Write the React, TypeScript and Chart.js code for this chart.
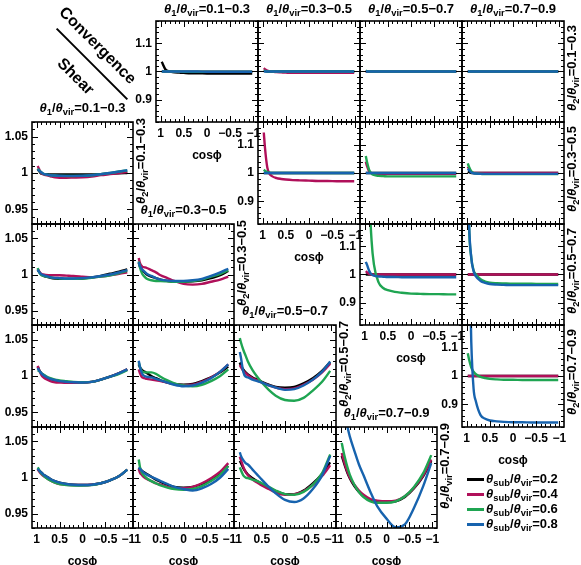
import React, { useEffect, useRef } from "react";
import { Chart, registerables } from "chart.js";
Chart.register(...registerables);

// ---------- data ----------
const COS_PHI = [0.975, 0.95, 0.9, 0.85, 0.8, 0.7, 0.6, 0.5, 0.35, 0.2, 0, -0.2, -0.4, -0.6, -0.8, -0.975];
const SUB_RATIOS = ["0.2", "0.4", "0.6", "0.8"];
const BIN_LABELS = ["0.1−0.3", "0.3−0.5", "0.5−0.7", "0.7−0.9"];
const X_TICKS = [1, 0.5, 0, -0.5, -1];
const CONV_Y_TICKS = [0.9, 1, 1.1];
const SHEAR_Y_TICKS = [0.95, 1, 1.05];

// Convergence: CONV_<theta1 bin>_<theta2 bin>, series order: 0.2, 0.4, 0.6, 0.8
const CONV_1_1 = [
  [1.035, 1.025, 1.008, 1.002, 1.0, 0.997, 0.996, 0.995, 0.994, 0.994, 0.993, 0.993, 0.993, 0.993, 0.993, 0.993],
  [1.002, 1.001, 1.0, 1.0, 1.0, 1.0, 0.999, 0.999, 0.999, 0.999, 0.999, 0.999, 0.999, 0.999, 0.999, 0.999],
  [1.001, 1.0, 1.0, 1.0, 1.0, 1.0, 1.0, 0.999, 0.999, 0.999, 0.999, 0.999, 0.999, 0.999, 0.999, 0.999],
  [1.0, 1.0, 1.0, 1.0, 1.0, 1.0, 1.0, 1.0, 1.0, 1.0, 0.999, 0.999, 0.999, 0.999, 0.999, 0.999],
];
const CONV_2_1 = [
  [1.003, 1.002, 1.0, 1.0, 1.0, 1.0, 1.0, 1.0, 1.0, 1.0, 1.0, 1.0, 1.0, 1.0, 1.0, 1.0],
  [1.012, 1.008, 1.003, 1.001, 1.0, 0.998, 0.997, 0.996, 0.995, 0.995, 0.995, 0.995, 0.995, 0.995, 0.995, 0.995],
  [1.004, 1.002, 1.0, 1.0, 1.0, 1.0, 1.0, 1.0, 1.0, 1.0, 1.0, 1.0, 1.0, 1.0, 1.0, 1.0],
  [1.0, 1.0, 1.0, 1.0, 1.0, 1.0, 1.0, 1.0, 1.0, 1.0, 1.0, 1.0, 1.0, 1.0, 1.0, 1.0],
];
const CONV_3_1 = [
  [1.0, 1.0, 1.0, 1.0, 1.0, 1.0, 1.0, 1.0, 1.0, 1.0, 1.0, 1.0, 1.0, 1.0, 1.0, 1.0],
  [1.0, 1.0, 1.0, 1.0, 1.0, 1.0, 1.0, 1.0, 1.0, 1.0, 1.0, 1.0, 1.0, 1.0, 1.0, 1.0],
  [1.003, 1.001, 1.0, 1.0, 1.0, 1.0, 1.0, 1.0, 1.0, 1.0, 1.0, 1.0, 1.0, 1.0, 1.0, 1.0],
  [1.0, 1.0, 1.0, 1.0, 1.0, 1.0, 1.0, 1.0, 1.0, 1.0, 1.0, 1.0, 1.0, 1.0, 1.0, 1.0],
];
const CONV_4_1 = [
  [1.0, 1.0, 1.0, 1.0, 1.0, 1.0, 1.0, 1.0, 1.0, 1.0, 1.0, 1.0, 1.0, 1.0, 1.0, 1.0],
  [1.0, 1.0, 1.0, 1.0, 1.0, 1.0, 1.0, 1.0, 1.0, 1.0, 1.0, 1.0, 1.0, 1.0, 1.0, 1.0],
  [1.002, 1.0, 1.0, 1.0, 1.0, 1.0, 1.0, 1.0, 1.0, 1.0, 1.0, 1.0, 1.0, 1.0, 1.0, 1.0],
  [1.0, 1.0, 1.0, 1.0, 1.0, 1.0, 1.0, 1.0, 1.0, 1.0, 1.0, 1.0, 1.0, 1.0, 1.0, 1.0],
];
const CONV_2_2 = [
  [1.0, 1.0, 1.0, 1.0, 1.0, 1.0, 1.0, 1.0, 1.0, 1.0, 1.0, 1.0, 1.0, 1.0, 1.0, 1.0],
  [1.143, 1.09, 1.02, 0.997, 0.989, 0.982, 0.979, 0.977, 0.975, 0.974, 0.973, 0.972, 0.972, 0.971, 0.971, 0.971],
  [1.012, 1.008, 1.003, 1.001, 1.0, 1.0, 1.0, 1.0, 1.0, 1.0, 1.0, 1.0, 1.0, 1.0, 1.0, 1.0],
  [1.0, 1.0, 1.0, 1.0, 1.0, 1.0, 1.0, 1.0, 1.0, 1.0, 1.0, 1.0, 1.0, 1.0, 1.0, 1.0],
];
const CONV_3_2 = [
  [1.0, 1.0, 1.0, 1.0, 1.0, 1.0, 1.0, 1.0, 1.0, 1.0, 1.0, 1.0, 1.0, 1.0, 1.0, 1.0],
  [1.04, 1.025, 1.005, 1.0, 0.998, 0.997, 0.997, 0.997, 0.997, 0.997, 0.997, 0.997, 0.997, 0.997, 0.997, 0.997],
  [1.06, 1.04, 1.01, 0.998, 0.993, 0.99, 0.989, 0.988, 0.988, 0.988, 0.988, 0.988, 0.988, 0.988, 0.988, 0.988],
  [1.0, 1.0, 1.0, 1.0, 1.0, 1.0, 1.0, 1.0, 1.0, 1.0, 1.0, 1.0, 1.0, 1.0, 1.0, 1.0],
];
const CONV_4_2 = [
  [1.005, 1.003, 1.0, 1.0, 1.0, 1.0, 1.0, 1.0, 1.0, 1.0, 1.0, 1.0, 1.0, 1.0, 1.0, 1.0],
  [1.022, 1.015, 1.004, 1.0, 1.0, 1.0, 1.0, 1.0, 1.0, 1.0, 1.0, 1.0, 1.0, 1.0, 1.0, 1.0],
  [1.034, 1.022, 1.006, 1.0, 0.998, 0.997, 0.996, 0.996, 0.996, 0.996, 0.996, 0.996, 0.996, 0.996, 0.996, 0.996],
  [1.015, 1.01, 1.002, 0.999, 0.998, 0.997, 0.997, 0.997, 0.997, 0.997, 0.997, 0.997, 0.997, 0.997, 0.997, 0.997],
];
const CONV_3_3 = [
  [1.0, 1.0, 1.0, 1.0, 1.0, 1.0, 1.0, 1.0, 1.0, 1.0, 1.0, 1.0, 1.0, 1.0, 1.0, 1.0],
  [1.012, 1.008, 1.002, 1.0, 1.0, 1.0, 1.0, 1.0, 1.0, 1.0, 1.0, 1.0, 1.0, 1.0, 1.0, 1.0],
  [2.0, 1.7, 1.3, 1.12, 1.036, 0.972, 0.952, 0.944, 0.938, 0.935, 0.932, 0.931, 0.93, 0.93, 0.929, 0.929],
  [1.045, 1.035, 1.012, 1.0, 0.996, 0.993, 0.992, 0.991, 0.991, 0.99, 0.99, 0.99, 0.99, 0.99, 0.99, 0.99],
];
const CONV_4_3 = [
  [1.0, 1.0, 1.0, 1.0, 1.0, 1.0, 1.0, 1.0, 1.0, 1.0, 1.0, 1.0, 1.0, 1.0, 1.0, 1.0],
  [1.0, 1.0, 1.0, 1.0, 1.0, 1.0, 1.0, 1.0, 1.0, 1.0, 1.0, 1.0, 1.0, 1.0, 1.0, 1.0],
  [1.4, 1.18, 1.06, 1.015, 1.0, 0.983, 0.975, 0.971, 0.969, 0.968, 0.967, 0.967, 0.967, 0.966, 0.966, 0.966],
  [1.45, 1.2, 1.06, 1.012, 0.993, 0.977, 0.97, 0.966, 0.964, 0.963, 0.962, 0.962, 0.962, 0.962, 0.962, 0.962],
];
const CONV_4_4 = [
  [1.0, 1.0, 1.0, 1.0, 1.0, 1.0, 1.0, 1.0, 1.0, 1.0, 1.0, 1.0, 1.0, 1.0, 1.0, 1.0],
  [1.0, 1.0, 1.0, 1.0, 1.0, 1.0, 1.0, 1.0, 1.0, 1.0, 1.0, 1.0, 1.0, 1.0, 1.0, 1.0],
  [1.08, 1.06, 1.03, 1.015, 1.006, 0.997, 0.993, 0.99, 0.988, 0.987, 0.987, 0.986, 0.986, 0.986, 0.986, 0.986],
  [1.8, 1.5, 1.12, 0.955, 0.91, 0.862, 0.849, 0.843, 0.84, 0.838, 0.837, 0.837, 0.836, 0.836, 0.836, 0.836],
];

// Shear: SHEAR_<theta1 bin>_<theta2 bin>
const SHEAR_1_1 = [
  [1.006, 1.003, 0.999, 0.9985, 0.9985, 0.998, 0.998, 0.998, 0.998, 0.998, 0.998, 0.998, 0.9985, 0.999, 0.9995, 1.0],
  [1.0097, 1.006, 1.0, 0.998, 0.997, 0.9955, 0.994, 0.9935, 0.9935, 0.9937, 0.994, 0.995, 0.997, 0.9985, 1.0, 1.0015],
  [1.006, 1.004, 1.001, 0.999, 0.998, 0.997, 0.9965, 0.996, 0.9958, 0.9958, 0.996, 0.997, 0.9985, 1.0, 1.002, 1.0035],
  [1.005, 1.0035, 1.001, 0.999, 0.998, 0.997, 0.9965, 0.9962, 0.996, 0.996, 0.9962, 0.997, 0.9985, 1.0, 1.002, 1.0038],
];
const SHEAR_1_2 = [
  [1.007, 1.004, 1.0, 0.998, 0.997, 0.9955, 0.9945, 0.994, 0.994, 0.994, 0.9945, 0.996, 0.998, 1.001, 1.004, 1.007],
  [1.008, 1.005, 1.001, 1.0, 0.9995, 0.999, 0.999, 0.999, 0.9985, 0.998, 0.997, 0.996, 0.997, 0.999, 1.001, 1.003],
  [1.009, 1.004, 0.999, 0.998, 0.997, 0.996, 0.995, 0.9945, 0.994, 0.994, 0.9945, 0.9955, 0.997, 0.999, 1.002, 1.005],
  [1.007, 1.004, 1.0005, 0.999, 0.998, 0.996, 0.9953, 0.995, 0.9945, 0.9945, 0.995, 0.996, 0.998, 1.0, 1.003, 1.006],
];
const SHEAR_2_2 = [
  [1.016, 1.011, 1.006, 1.003, 1.0, 0.997, 0.995, 0.993, 0.991, 0.99, 0.99, 0.9905, 0.992, 0.995, 0.999, 1.005],
  [1.023, 1.016, 1.011, 1.01, 1.009, 1.006, 1.003, 0.999, 0.995, 0.991, 0.987, 0.986, 0.987, 0.99, 0.993, 0.997],
  [1.018, 1.01, 1.001, 0.997, 0.994, 0.992, 0.991, 0.991, 0.9905, 0.99, 0.99, 0.991, 0.993, 0.997, 1.001, 1.006],
  [1.017, 1.012, 1.007, 1.004, 1.001, 0.998, 0.995, 0.993, 0.9915, 0.991, 0.991, 0.992, 0.994, 0.998, 1.003, 1.008],
];
const SHEAR_1_3 = [
  [1.013, 1.009, 1.004, 1.001, 0.999, 0.996, 0.994, 0.993, 0.992, 0.991, 0.991, 0.992, 0.995, 0.999, 1.004, 1.009],
  [1.014, 1.009, 1.002, 0.998, 0.996, 0.993, 0.9915, 0.991, 0.9905, 0.9905, 0.991, 0.992, 0.995, 0.999, 1.004, 1.009],
  [1.008, 1.007, 1.004, 1.002, 1.0, 0.997, 0.995, 0.994, 0.993, 0.992, 0.9915, 0.992, 0.995, 0.999, 1.003, 1.008],
  [1.011, 1.008, 1.004, 1.001, 0.999, 0.996, 0.9945, 0.993, 0.992, 0.9915, 0.991, 0.992, 0.995, 0.999, 1.004, 1.009],
];
const SHEAR_2_3 = [
  [1.016, 1.012, 1.008, 1.006, 1.004, 1.0, 0.997, 0.994, 0.991, 0.989, 0.988, 0.989, 0.993, 0.998, 1.005, 1.013],
  [1.009, 1.004, 0.998, 0.997, 0.996, 0.995, 0.994, 0.993, 0.991, 0.989, 0.9875, 0.988, 0.992, 0.998, 1.006, 1.016],
  [1.019, 1.013, 1.006, 1.005, 1.005, 1.005, 1.003, 0.999, 0.994, 0.99, 0.987, 0.986, 0.988, 0.993, 1.0, 1.009],
  [1.021, 1.013, 1.003, 1.0, 0.999, 0.998, 0.996, 0.994, 0.991, 0.988, 0.986, 0.987, 0.991, 0.997, 1.006, 1.016],
];
const SHEAR_3_3 = [
  [1.0185, 1.014, 1.009, 1.005, 1.002, 0.998, 0.995, 0.992, 0.988, 0.985, 0.984, 0.985, 0.99, 0.997, 1.007, 1.019],
  [1.015, 1.012, 1.007, 1.004, 1.001, 0.997, 0.994, 0.991, 0.987, 0.984, 0.982, 0.983, 0.988, 0.995, 1.005, 1.017],
  [1.052, 1.046, 1.036, 1.028, 1.02, 1.008, 0.999, 0.991, 0.981, 0.973, 0.967, 0.966, 0.97, 0.98, 0.992, 1.007],
  [1.033, 1.025, 1.006, 0.999, 0.998, 0.995, 0.993, 0.991, 0.987, 0.984, 0.981, 0.982, 0.987, 0.995, 1.006, 1.02],
];
const SHEAR_1_4 = [
  [1.012, 1.01, 1.007, 1.004, 1.002, 0.998, 0.995, 0.993, 0.991, 0.99, 0.9895, 0.99, 0.992, 0.996, 1.002, 1.011],
  [1.012, 1.009, 1.005, 1.002, 1.0, 0.996, 0.993, 0.991, 0.99, 0.9895, 0.9895, 0.99, 0.992, 0.996, 1.002, 1.011],
  [1.014, 1.011, 1.006, 1.003, 1.0, 0.996, 0.993, 0.991, 0.9895, 0.989, 0.989, 0.9895, 0.992, 0.996, 1.002, 1.011],
  [1.012, 1.01, 1.007, 1.004, 1.002, 0.998, 0.995, 0.993, 0.991, 0.99, 0.9895, 0.99, 0.992, 0.996, 1.002, 1.011],
];
const SHEAR_2_4 = [
  [1.014, 1.012, 1.009, 1.007, 1.005, 1.001, 0.997, 0.994, 0.99, 0.987, 0.986, 0.987, 0.991, 0.997, 1.005, 1.016],
  [1.012, 1.007, 1.003, 1.0, 0.998, 0.995, 0.992, 0.99, 0.987, 0.985, 0.985, 0.987, 0.992, 0.999, 1.008, 1.02],
  [1.025, 1.015, 1.006, 1.002, 0.999, 0.995, 0.992, 0.989, 0.986, 0.984, 0.983, 0.984, 0.988, 0.995, 1.004, 1.016],
  [1.014, 1.012, 1.009, 1.006, 1.004, 1.001, 0.998, 0.995, 0.991, 0.987, 0.984, 0.982, 0.985, 0.991, 1.0, 1.012],
];
const SHEAR_3_4 = [
  [1.023, 1.02, 1.013, 1.008, 1.004, 0.999, 0.995, 0.991, 0.986, 0.981, 0.977, 0.977, 0.982, 0.992, 1.005, 1.021],
  [1.029, 1.024, 1.015, 1.008, 1.003, 0.997, 0.993, 0.989, 0.984, 0.979, 0.976, 0.977, 0.981, 0.99, 1.002, 1.017],
  [1.014, 1.01, 1.003, 1.0, 0.999, 0.997, 0.995, 0.992, 0.987, 0.982, 0.977, 0.976, 0.98, 0.99, 1.006, 1.032],
  [1.035, 1.03, 1.024, 1.02, 1.018, 1.011, 1.004, 0.997, 0.987, 0.978, 0.969, 0.966, 0.971, 0.984, 1.003, 1.03],
];
const SHEAR_4_4 = [
  [1.03, 1.025, 1.015, 1.006, 0.999, 0.988, 0.98, 0.974, 0.969, 0.967, 0.966, 0.967, 0.973, 0.985, 1.002, 1.023],
  [1.034, 1.028, 1.017, 1.008, 1.0, 0.99, 0.982, 0.976, 0.97, 0.968, 0.967, 0.968, 0.974, 0.986, 1.003, 1.025],
  [1.048, 1.04, 1.026, 1.014, 1.004, 0.99, 0.98, 0.973, 0.967, 0.965, 0.965, 0.967, 0.974, 0.987, 1.006, 1.031],
  [1.12, 1.105, 1.085, 1.07, 1.057, 1.037, 1.018, 1.003, 0.98, 0.96, 0.943, 0.931, 0.935, 0.958, 0.988, 1.02],
];

// ---------- layout / style ----------
const COLORS = ["#000000", "#b0105a", "#1fa552", "#1763ae"];
const CX = [156, 258, 360, 462, 564];
const CY = [21, 122, 224, 325, 427];
const SX = [32, 133, 234, 336, 437];
const SY = [122, 224, 325, 427, 528];
const FONT = "'Liberation Sans', Arial, Helvetica, sans-serif";

const PANELS = [
  { kind: "conv", i: 0, j: 0, data: CONV_1_1 },
  { kind: "conv", i: 1, j: 0, data: CONV_2_1 },
  { kind: "conv", i: 2, j: 0, data: CONV_3_1 },
  { kind: "conv", i: 3, j: 0, data: CONV_4_1 },
  { kind: "conv", i: 1, j: 1, data: CONV_2_2 },
  { kind: "conv", i: 2, j: 1, data: CONV_3_2 },
  { kind: "conv", i: 3, j: 1, data: CONV_4_2 },
  { kind: "conv", i: 2, j: 2, data: CONV_3_3 },
  { kind: "conv", i: 3, j: 2, data: CONV_4_3 },
  { kind: "conv", i: 3, j: 3, data: CONV_4_4 },
  { kind: "shear", i: 0, j: 0, data: SHEAR_1_1 },
  { kind: "shear", i: 0, j: 1, data: SHEAR_1_2 },
  { kind: "shear", i: 1, j: 1, data: SHEAR_2_2 },
  { kind: "shear", i: 0, j: 2, data: SHEAR_1_3 },
  { kind: "shear", i: 1, j: 2, data: SHEAR_2_3 },
  { kind: "shear", i: 2, j: 2, data: SHEAR_3_3 },
  { kind: "shear", i: 0, j: 3, data: SHEAR_1_4 },
  { kind: "shear", i: 1, j: 3, data: SHEAR_2_4 },
  { kind: "shear", i: 2, j: 3, data: SHEAR_3_4 },
  { kind: "shear", i: 3, j: 3, data: SHEAR_4_4 },
];

const fmt = (v: number) => (v < 0 ? "−" + Math.abs(v) : String(v));

const framePlugin = {
  id: "frame",
  afterDraw(chart: any, _args: any, opts: any) {
    const { ctx, chartArea: a, scales } = chart;
    const xs = scales.x;
    const ys = scales.y;
    ctx.save();
    ctx.strokeStyle = "#000";
    ctx.lineWidth = 1;
    ctx.beginPath();
    for (let k = -10; k <= 10; k++) {
      const px = Math.round(xs.getPixelForValue(k / 10)) + 0.5;
      const len = k % 5 === 0 ? 6 : 3;
      ctx.moveTo(px, a.bottom);
      ctx.lineTo(px, a.bottom - len);
      ctx.moveTo(px, a.top);
      ctx.lineTo(px, a.top + len);
    }
    for (let k = opts.kMin; k <= opts.kMax; k += opts.kStep) {
      const py = Math.round(ys.getPixelForValue(k / 100)) + 0.5;
      const len = k % opts.kMajor === 0 ? 6 : 3;
      ctx.moveTo(a.left, py);
      ctx.lineTo(a.left + len, py);
      ctx.moveTo(a.right, py);
      ctx.lineTo(a.right - len, py);
    }
    ctx.stroke();
    ctx.lineWidth = 1.6;
    ctx.strokeRect(a.left, a.top, a.right - a.left, a.bottom - a.top);
    ctx.restore();
  },
};

function Panel({ p }: { p: any }) {
  const ref = useRef<HTMLCanvasElement>(null);
  const isConv = p.kind === "conv";
  const showX = isConv ? p.i === p.j : p.j === 3;
  const showY = isConv ? p.i === p.j : p.i === 0;
  const XB = isConv ? CX : SX;
  const YB = isConv ? CY : SY;
  const left = XB[p.i];
  const top = YB[p.j];
  const w = XB[p.i + 1] - left;
  const h = YB[p.j + 1] - top;
  const padL = 40, padR = 12, padT = 6, padB = 44;
  const cw = w + padL + padR;
  const ch = h + padT + padB;

  useEffect(() => {
    const yTicks = isConv ? CONV_Y_TICKS : SHEAR_Y_TICKS;
    const tickFont = { family: FONT, size: 12, weight: "bold" as const };
    const chart = new Chart(ref.current as HTMLCanvasElement, {
      type: "line",
      data: {
        datasets: p.data.map((vals: number[], s: number) => ({
          label: SUB_RATIOS[s],
          data: COS_PHI.map((c, k) => ({ x: c, y: vals[k] })),
          borderColor: COLORS[s],
          borderWidth: 2.4,
          pointRadius: 0,
          fill: false,
          cubicInterpolationMode: "monotone",
          order: 3 - s,
        })),
      },
      options: {
        animation: false,
        responsive: false,
        maintainAspectRatio: false,
        devicePixelRatio: 1,
        events: [],
        layout: { padding: { top: padT, right: padR, left: 0, bottom: 0 } },
        plugins: {
          legend: { display: false },
          tooltip: { enabled: false },
          frame: isConv
            ? { kMin: 82, kMax: 118, kStep: 2, kMajor: 10 }
            : { kMin: 93, kMax: 107, kStep: 1, kMajor: 5 },
        } as any,
        scales: {
          x: {
            type: "linear",
            reverse: true,
            min: -1.1,
            max: 1.1,
            grid: { display: false, drawTicks: false },
            border: { display: false },
            ticks: {
              display: showX,
              color: "#000",
              font: tickFont,
              padding: 4,
              maxRotation: 0,
              autoSkip: false,
              callback: (v: any) => fmt(Number(v)),
            },
            title: {
              display: showX,
              text: "cosϕ",
              color: "#000",
              font: { family: FONT, size: 12, weight: "bold" },
              padding: { top: 0, bottom: 3 },
            },
            afterBuildTicks: (s: any) => {
              s.ticks = X_TICKS.map((v) => ({ value: v }));
            },
            afterFit: (s: any) => {
              s.height = padB;
              s.paddingLeft = 0;
              s.paddingRight = 0;
            },
          },
          y: {
            type: "linear",
            min: isConv ? 0.82 : 0.93,
            max: isConv ? 1.18 : 1.07,
            grid: { display: false, drawTicks: false },
            border: { display: false },
            ticks: {
              display: showY,
              color: "#000",
              font: tickFont,
              padding: 4,
              autoSkip: false,
              callback: (v: any) => fmt(Number(v)),
            },
            afterBuildTicks: (s: any) => {
              s.ticks = yTicks.map((v) => ({ value: v }));
            },
            afterFit: (s: any) => {
              s.width = padL;
              s.paddingTop = 0;
              s.paddingBottom = 0;
            },
          },
        },
      } as any,
      plugins: [framePlugin as any],
    });
    return () => chart.destroy();
  }, []);

  return (
    <canvas
      ref={ref}
      width={cw}
      height={ch}
      style={{ position: "absolute", left: left - padL, top: top - padT, width: cw, height: ch }}
    />
  );
}

const subStyle: React.CSSProperties = { fontSize: "0.72em", position: "relative", top: "0.3em" };

function Ratio({ a, b, v }: { a: string; b: string; v: string }) {
  return (
    <span>
      <i>θ</i>
      <span style={subStyle}>{a}</span>/<i>θ</i>
      <span style={subStyle}>{b}</span>={v}
    </span>
  );
}

const labelBase: React.CSSProperties = {
  position: "absolute",
  fontFamily: FONT,
  fontWeight: "bold",
  fontSize: 13,
  whiteSpace: "nowrap",
  color: "#000",
  lineHeight: "15px",
};

function Label({ x, y, rot, children, size }: any) {
  return (
    <div
      style={{
        ...labelBase,
        fontSize: size || 13,
        left: x,
        top: y,
        transform: `translate(-50%, -50%) rotate(${rot || 0}deg)`,
      }}
    >
      {children}
    </div>
  );
}

export default function App() {
  const mid = (arr: number[], k: number) => (arr[k] + arr[k + 1]) / 2;
  return (
    <div
      style={{
        position: "absolute",
        left: 0,
        top: 0,
        width: 581,
        height: 565,
        overflow: "hidden",
        background: "#fff",
      }}
    >
      {PANELS.map((p, n) => (
        <Panel key={n} p={p} />
      ))}
      {/* convergence column titles */}
      {BIN_LABELS.map((b, k) => (
        <Label key={"ct" + k} x={mid(CX, k)} y={9}>
          <Ratio a="1" b="vir" v={b} />
        </Label>
      ))}
      {/* convergence row labels */}
      {BIN_LABELS.map((b, k) => (
        <Label key={"cr" + k} x={572} y={mid(CY, k) - 4} rot={-90}>
          <Ratio a="2" b="vir" v={b} />
        </Label>
      ))}
      {/* shear column titles */}
      {BIN_LABELS.map((b, k) => (
        <Label key={"st" + k} x={mid(SX, k)} y={SY[k] - 14}>
          <Ratio a="1" b="vir" v={b} />
        </Label>
      ))}
      {/* shear row labels */}
      {BIN_LABELS.map((b, k) => (
        <Label key={"sr" + k} x={SX[k + 1] + 8} y={mid(SY, k) - 12} rot={-90}>
          <Ratio a="2" b="vir" v={b} />
        </Label>
      ))}
      {/* corner key */}
      <div
        style={{
          position: "absolute",
          left: 92 - 50,
          top: 64 - 1,
          width: 100,
          height: 2,
          background: "#000",
          transform: "rotate(45deg)",
        }}
      />
      <Label x={98} y={45} rot={45} size={16}>
        Convergence
      </Label>
      <Label x={76} y={76} rot={45} size={16}>
        Shear
      </Label>
      {/* legend */}
      <div style={{ position: "absolute", left: 467, top: 472 }}>
        {SUB_RATIOS.map((r, s) => (
          <div key={r} style={{ display: "flex", alignItems: "center", height: 15 }}>
            <span style={{ display: "inline-block", width: 17, height: 3, background: COLORS[s] }} />
            <span style={{ ...labelBase, position: "static", marginLeft: 2 }}>
              <Ratio a="sub" b="vir" v={r} />
            </span>
          </div>
        ))}
      </div>
    </div>
  );
}
